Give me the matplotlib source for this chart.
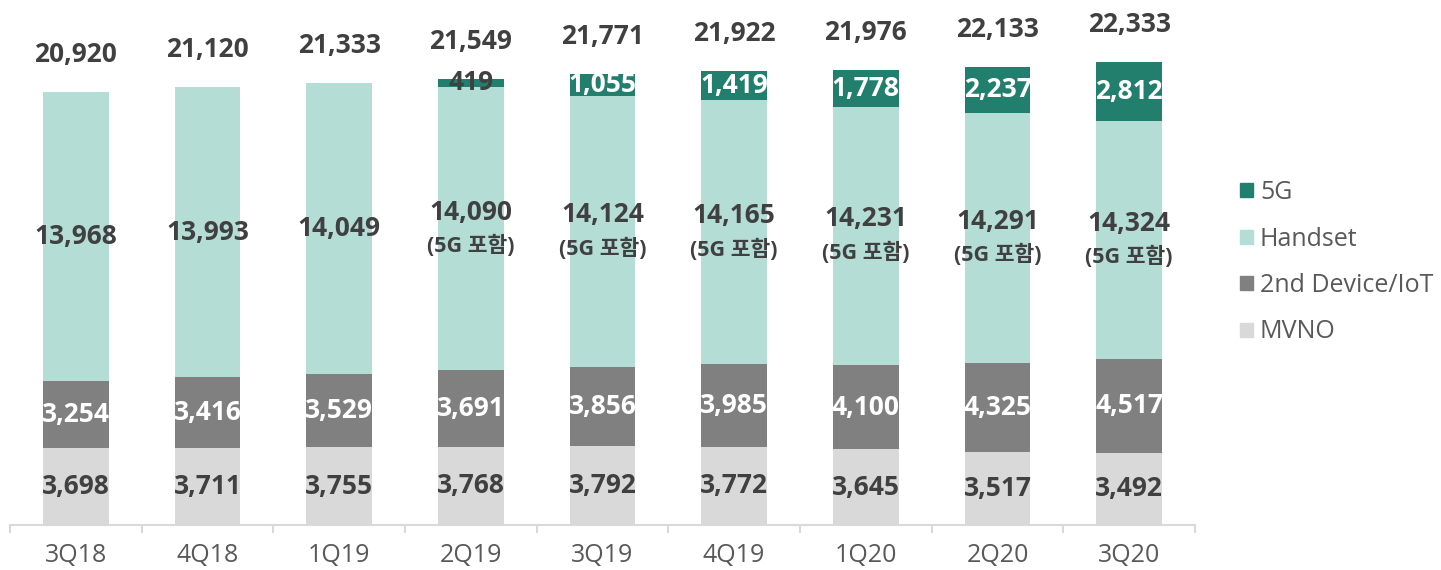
import matplotlib.pyplot as plt
from matplotlib.patches import Patch
import numpy as np

plt.rcParams['font.family'] = ['Open Sans', 'Noto Sans CJK KR', 'DejaVu Sans']

quarters = ["3Q18", "4Q18", "1Q19", "2Q19", "3Q19", "4Q19", "1Q20", "2Q20", "3Q20"]
mvno = [3698, 3711, 3755, 3768, 3792, 3772, 3645, 3517, 3492]
device_iot = [3254, 3416, 3529, 3691, 3856, 3985, 4100, 4325, 4517]
handset = [13968, 13993, 14049, 14090, 14124, 14165, 14231, 14291, 14324]  # 5G 포함
fiveg = [0, 0, 0, 419, 1055, 1419, 1778, 2237, 2812]
totals = [20920, 21120, 21333, 21549, 21771, 21922, 21976, 22133, 22333]

c_mvno = "#d9d9d9"
c_iot = "#808080"
c_hand = "#b3ddd5"
c_5g = "#237f6d"
c_text = "#404040"

fig = plt.figure(figsize=(14.41, 5.70), dpi=100)
ax = fig.add_axes([10 / 1441, 45 / 570, 1185 / 1441, 525 / 570])

x = np.arange(len(quarters))
w = 0.5
mvno = np.array(mvno)
device_iot = np.array(device_iot)
handset = np.array(handset)
fiveg = np.array(fiveg)
hand_only = handset - fiveg

ax.bar(x, mvno, w, color=c_mvno)
ax.bar(x, device_iot, w, bottom=mvno, color=c_iot)
ax.bar(x, hand_only, w, bottom=mvno + device_iot, color=c_hand)
ax.bar(x, fiveg, w, bottom=mvno + device_iot + hand_only, color=c_5g)

fs = 19
wt = "bold"
for i in range(len(quarters)):
    ax.text(x[i], mvno[i] / 2, f"{mvno[i]:,}", ha="center", va="center",
            fontsize=fs, fontweight=wt, color=c_text)
    ax.text(x[i], mvno[i] + device_iot[i] / 2, f"{device_iot[i]:,}", ha="center", va="center",
            fontsize=fs, fontweight=wt, color="white")
    hmid = mvno[i] + device_iot[i] + hand_only[i] / 2
    if fiveg[i] > 0:
        ax.annotate(f"{handset[i]:,}", (x[i], hmid), xytext=(0, 12), textcoords="offset points",
                    ha="center", va="center", fontsize=fs, fontweight=wt, color=c_text)
        ax.annotate("(5G 포함)", (x[i], hmid), xytext=(0, -12.5), textcoords="offset points",
                    ha="center", va="center", fontsize=15.5, fontweight=wt, color=c_text)
        gmid = mvno[i] + device_iot[i] + hand_only[i] + fiveg[i] / 2
        col = c_text if fiveg[i] < 600 else "white"
        ax.text(x[i], gmid, f"{fiveg[i]:,}", ha="center", va="center",
                fontsize=fs, fontweight=wt, color=col)
    else:
        ax.text(x[i], hmid, f"{handset[i]:,}", ha="center", va="center",
                fontsize=fs, fontweight=wt, color=c_text)
    ax.annotate(f"{totals[i]:,}", (x[i], totals[i]), xytext=(0, 27), textcoords="offset points",
                ha="center", va="center", fontsize=fs, fontweight=wt, color=c_text)

ax.set_xlim(-0.5, len(quarters) - 0.5)
ax.set_ylim(0, 25344)
ax.set_yticks([])
for s in ["top", "right", "left"]:
    ax.spines[s].set_visible(False)
ax.spines["bottom"].set_color("#d9d9d9")
ax.spines["bottom"].set_linewidth(1.5)

ax.set_xticks(x)
ax.set_xticklabels(quarters, fontsize=18, color="#595959")
ax.tick_params(axis="x", which="major", length=0, pad=13)
ax.set_xticks(np.arange(-0.5, len(quarters)), minor=True)
ax.tick_params(axis="x", which="minor", length=6, width=1.5, color="#d9d9d9")

handles = [Patch(color=c_5g), Patch(color=c_hand), Patch(color=c_iot), Patch(color=c_mvno)]
labels = ["5G", "Handset", "2nd Device/IoT", "MVNO"]
leg = fig.legend(handles, labels, loc="upper left", bbox_to_anchor=(1230 / 1441, 1 - 170 / 570),
                 frameon=False, fontsize=18, handlelength=0.5, handleheight=0.5,
                 handletextpad=0.3, labelspacing=0.86, borderaxespad=0)
for t in leg.get_texts():
    t.set_color("#595959")

plt.savefig("out.png", dpi=100)
